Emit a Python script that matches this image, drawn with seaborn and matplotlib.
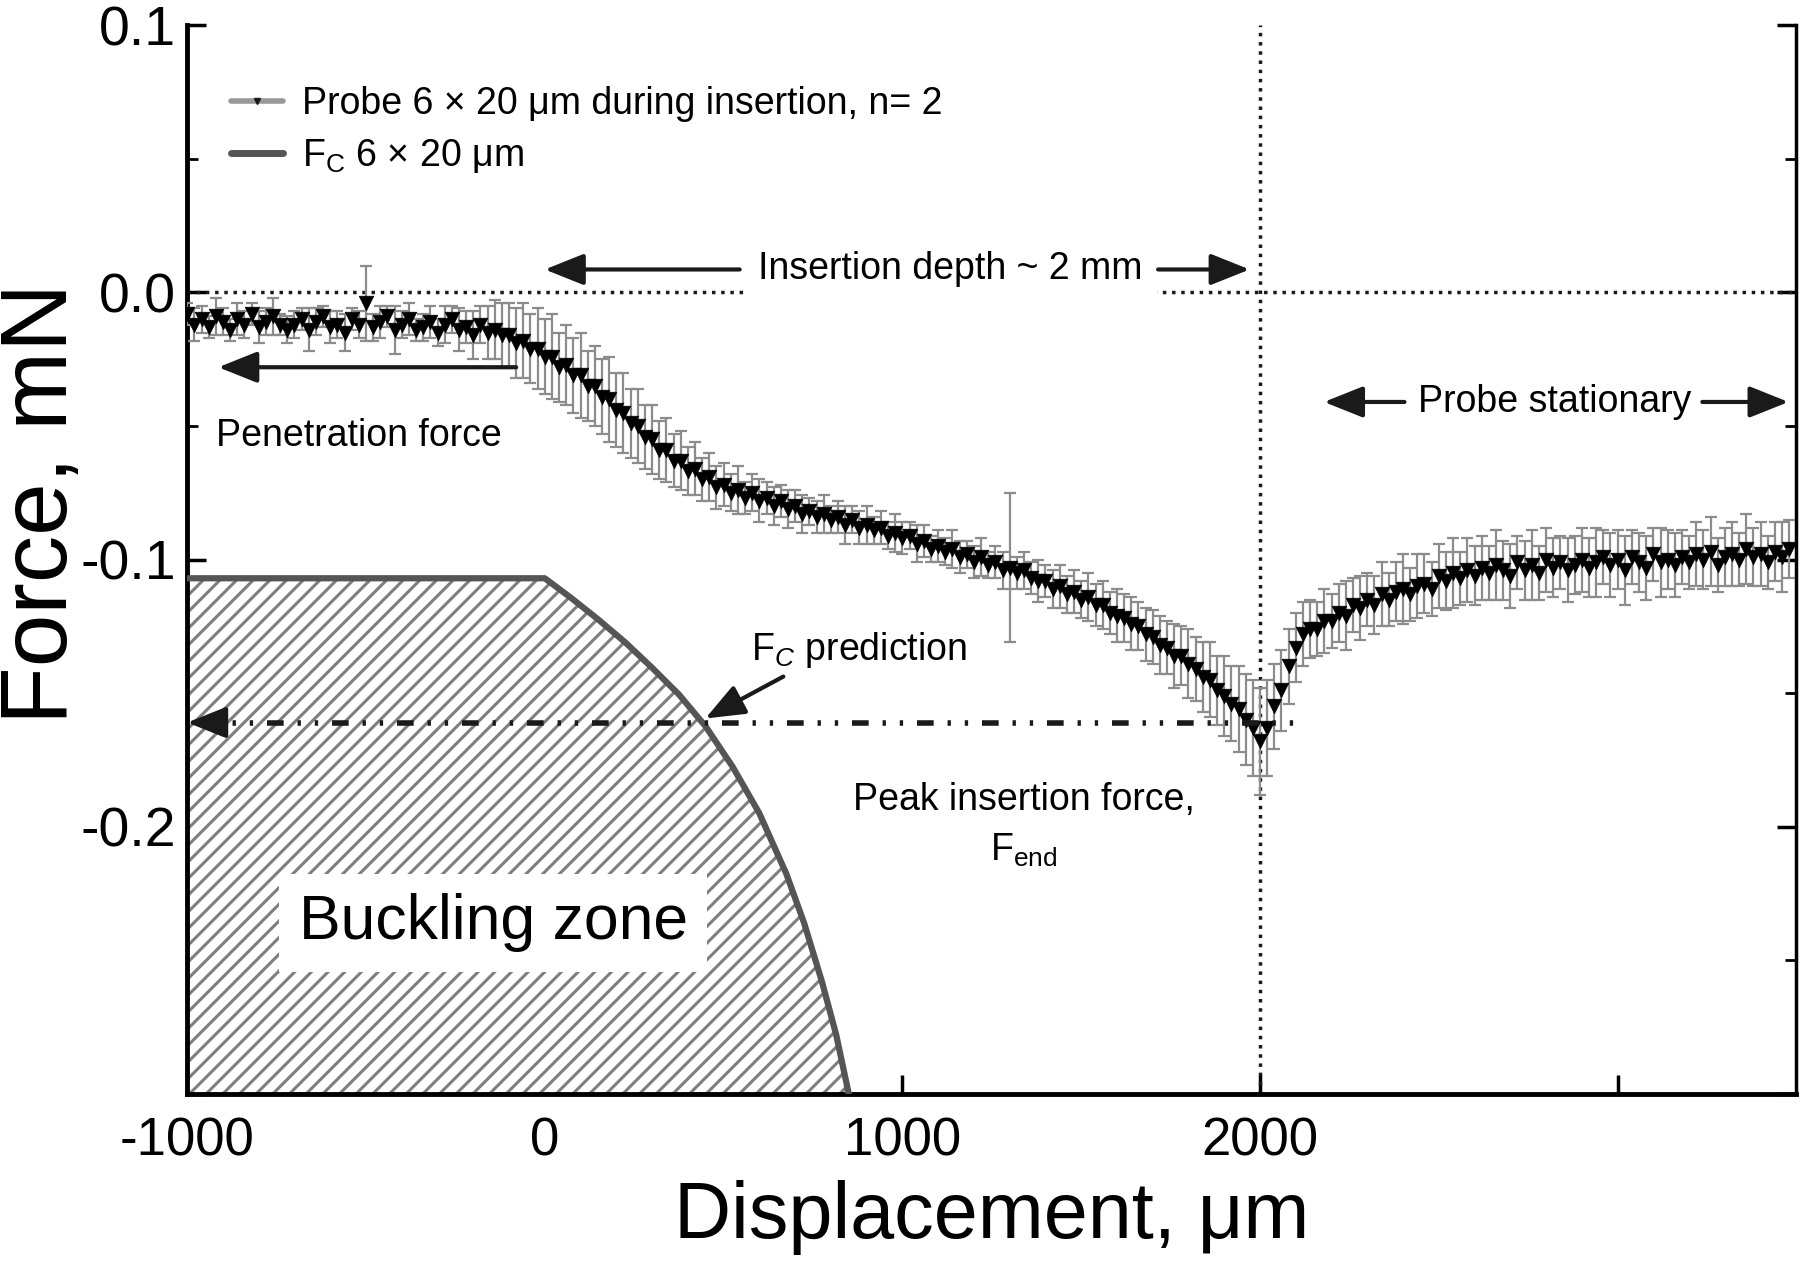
import numpy as np
import matplotlib
matplotlib.use('Agg')
import matplotlib.pyplot as plt
import seaborn as sns
from matplotlib.lines import Line2D

# displacement grid of the averaged probe recording (um)
disp = np.arange(-1000, 3500, 20)

# mean force, mN (n = 2 probes); one row = 300 um
force_mean = [
    -0.008, -0.012, -0.010, -0.013, -0.009, -0.011, -0.014, -0.010, -0.012, -0.008, -0.013, -0.011, -0.009, -0.012, -0.014,
    -0.012, -0.010, -0.014, -0.011, -0.009, -0.013, -0.012, -0.015, -0.010, -0.012, -0.004, -0.013, -0.011, -0.009, -0.014,
    -0.012, -0.010, -0.014, -0.013, -0.011, -0.015, -0.012, -0.010, -0.014, -0.013, -0.016, -0.012, -0.015, -0.014, -0.016,
    -0.016, -0.019, -0.018, -0.021, -0.021, -0.024, -0.024, -0.028, -0.027, -0.031, -0.031, -0.035, -0.035, -0.039, -0.040,
    -0.044, -0.045, -0.049, -0.050, -0.054, -0.055, -0.059, -0.059, -0.063, -0.063, -0.067, -0.066, -0.070, -0.069, -0.073,
    -0.072, -0.075, -0.074, -0.077, -0.075, -0.078, -0.077, -0.080, -0.078, -0.081, -0.080, -0.083, -0.082, -0.084, -0.083,
    -0.085, -0.084, -0.087, -0.085, -0.088, -0.087, -0.089, -0.088, -0.091, -0.090, -0.092, -0.091, -0.094, -0.093, -0.096,
    -0.095, -0.097, -0.096, -0.099, -0.098, -0.101, -0.099, -0.102, -0.101, -0.104, -0.103, -0.105, -0.104, -0.107, -0.108,
    -0.108, -0.111, -0.110, -0.113, -0.112, -0.115, -0.114, -0.117, -0.117, -0.120, -0.121, -0.122, -0.124, -0.125, -0.128,
    -0.129, -0.132, -0.133, -0.136, -0.136, -0.139, -0.141, -0.144, -0.145, -0.149, -0.151, -0.154, -0.156, -0.160, -0.163,
    -0.168, -0.163, -0.155, -0.149, -0.140, -0.133, -0.128, -0.126, -0.126, -0.123, -0.123, -0.120, -0.121, -0.117, -0.118,
    -0.115, -0.117, -0.113, -0.115, -0.112, -0.111, -0.113, -0.110, -0.109, -0.111, -0.106, -0.108, -0.105, -0.107, -0.104,
    -0.106, -0.103, -0.105, -0.102, -0.104, -0.106, -0.101, -0.104, -0.102, -0.105, -0.100, -0.103, -0.101, -0.104, -0.102,
    -0.100, -0.103, -0.101, -0.099, -0.102, -0.100, -0.104, -0.099, -0.101, -0.103, -0.098, -0.101, -0.100, -0.102, -0.099,
    -0.101, -0.098, -0.100, -0.097, -0.102, -0.099, -0.098, -0.100, -0.096, -0.099, -0.098, -0.101, -0.097, -0.099, -0.096,
]
force_sd = [
    0.004, 0.006, 0.005, 0.004, 0.007, 0.005, 0.004, 0.006, 0.005, 0.004, 0.006, 0.005, 0.007, 0.004, 0.005,
    0.005, 0.004, 0.008, 0.005, 0.004, 0.006, 0.005, 0.007, 0.004, 0.005, 0.014, 0.005, 0.006, 0.004, 0.009,
    0.005, 0.006, 0.004, 0.005, 0.006, 0.005, 0.007, 0.005, 0.008, 0.006, 0.009, 0.007, 0.010, 0.011, 0.012,
    0.012, 0.013, 0.014, 0.013, 0.015, 0.014, 0.016, 0.013, 0.015, 0.014, 0.016, 0.013, 0.015, 0.014, 0.016,
    0.014, 0.015, 0.013, 0.014, 0.012, 0.013, 0.011, 0.012, 0.010, 0.011, 0.009, 0.010, 0.008, 0.009, 0.008,
    0.008, 0.007, 0.009, 0.006, 0.007, 0.008, 0.006, 0.007, 0.006, 0.007, 0.006, 0.007, 0.005, 0.006, 0.007,
    0.005, 0.006, 0.007, 0.005, 0.006, 0.007, 0.005, 0.006, 0.005, 0.007, 0.006, 0.005, 0.007, 0.006, 0.005,
    0.006, 0.005, 0.007, 0.006, 0.005, 0.006, 0.007, 0.005, 0.006, 0.007, 0.028, 0.006, 0.007, 0.006, 0.008,
    0.006, 0.007, 0.008, 0.007, 0.008, 0.007, 0.009, 0.008, 0.009, 0.008, 0.010, 0.009, 0.010, 0.009, 0.010,
    0.010, 0.011, 0.010, 0.012, 0.011, 0.013, 0.012, 0.013, 0.014, 0.013, 0.015, 0.014, 0.016, 0.017, 0.018,
    0.020, 0.018, 0.016, 0.015, 0.014, 0.013, 0.012, 0.011, 0.010, 0.012, 0.010, 0.011, 0.013, 0.010, 0.012,
    0.010, 0.011, 0.012, 0.010, 0.011, 0.013, 0.010, 0.012, 0.011, 0.010, 0.012, 0.011, 0.013, 0.010, 0.012,
    0.011, 0.012, 0.010, 0.013, 0.011, 0.012, 0.010, 0.011, 0.013, 0.010, 0.012, 0.011, 0.010, 0.012, 0.011,
    0.012, 0.011, 0.013, 0.010, 0.012, 0.011, 0.013, 0.010, 0.011, 0.012, 0.010, 0.013, 0.011, 0.012, 0.010,
    0.010, 0.012, 0.011, 0.013, 0.010, 0.011, 0.012, 0.010, 0.013, 0.011, 0.012, 0.010, 0.011, 0.013, 0.011,
]

# critical buckling force F_C vs displacement
fc_x = [-1000, 0, 75, 150, 225, 300, 375, 450, 525, 600, 675, 725, 775, 815, 850]
fc_y = [-0.107, -0.107, -0.1145, -0.1225, -0.131, -0.1405, -0.1505, -0.1625,
        -0.1775, -0.195, -0.2175, -0.236, -0.258, -0.278, -0.300]

fc_pred = -0.161      # F_C at the end of insertion
insert_end = 2000     # insertion depth, um

x_ticks = [-1000, 0, 1000, 2000, 3000]
x_labels = ['-1000', '0', '1000', '2000', '']
y_ticks = [0.1, 0.0, -0.1, -0.2, -0.3]
y_labels = ['0.1', '0.0', '-0.1', '-0.2', '']

sns.set_theme(style='ticks')
plt.rcParams['font.family'] = ['Liberation Sans', 'DejaVu Sans']
plt.rcParams['mathtext.fontset'] = 'custom'
plt.rcParams['mathtext.rm'] = 'Liberation Sans'
plt.rcParams['mathtext.it'] = 'Liberation Sans:italic'
plt.rcParams['axes.unicode_minus'] = False
plt.rcParams['hatch.linewidth'] = 2.2
for k in ['text.color', 'axes.labelcolor', 'xtick.color', 'ytick.color', 'axes.edgecolor']:
    plt.rcParams[k] = 'black'

fig = plt.figure(figsize=(18, 12.66), dpi=100)
ax = fig.add_axes([0.104, 0.136, 0.894, 0.844])

# buckling zone
ax.fill_between(fc_x, fc_y, -0.3, facecolor='white', edgecolor='#7f7f7f',
                hatch='//', linewidth=0, zorder=1)
sns.lineplot(x=fc_x, y=fc_y, sort=False, color='#555555', lw=4.5, ax=ax, zorder=3)

# reference lines
ax.axvline(insert_end, color='k', ls=':', lw=2.5, zorder=2)
ax.axhline(0, color='k', ls=':', lw=2.5, zorder=2)
ax.plot([-960, 2100], [fc_pred, fc_pred], color='k', lw=4,
        ls=(0, (3, 2.5, 0.6, 2.5, 0.6, 2.5)), zorder=6)

# probe data
ax.errorbar(disp, force_mean, yerr=force_sd, fmt='none', ecolor='#8c8c8c',
            elinewidth=1.6, capsize=4, capthick=1.6, zorder=4)
sns.scatterplot(x=disp, y=force_mean, marker='v', s=110, color='black',
                edgecolor='black', linewidth=0.5, ax=ax, zorder=5, legend=False)

arrow = dict(arrowstyle='-|>,head_length=2.0,head_width=0.8', color='k', lw=3,
             shrinkA=0, shrinkB=0)


def arr(tip, tail):
    ax.annotate('', xy=tip, xytext=tail, arrowprops=arrow, zorder=7)


# insertion depth
ax.text(1135, 0.0086, 'Insertion depth ~ 2 mm', ha='center', va='center',
        fontsize=27, bbox=dict(facecolor='white', edgecolor='none', pad=10), zorder=6)
arr((0, 0.0086), (545, 0.0086))
arr((1971, 0.0086), (1715, 0.0086))

# penetration force
arr((-913, -0.028), (-80, -0.028))
ax.text(-920, -0.0536, 'Penetration force', ha='left', va='center', fontsize=27)

# probe stationary
ax.text(2825, -0.041, 'Probe stationary', ha='center', va='center', fontsize=27)
arr((2179, -0.041), (2404, -0.041))
arr((3478, -0.041), (3237, -0.041))

# F_C prediction
arr((-1000, fc_pred), (-900, fc_pred))
arr((449, -0.1595), (667, -0.1438))
ax.text(577, -0.134, r'F$_{C}$ prediction', ha='left', va='center', fontsize=27)

# peak force
ax.text(1340, -0.190, 'Peak insertion force,', ha='center', va='center', fontsize=27)
ax.text(1340, -0.209, r'F$_\mathrm{end}$', ha='center', va='center', fontsize=27)

ax.text(-144, -0.236, 'Buckling zone', ha='center', va='center', fontsize=45,
        bbox=dict(facecolor='white', edgecolor='none', pad=14), zorder=6)

# legend
h1 = Line2D([], [], color='#999999', lw=4, marker='v', ms=4, mfc='k', mec='k')
h2 = Line2D([], [], color='#555555', lw=5)
ax.legend([h1, h2], [r'Probe 6 × 20 μm during insertion, n= 2',
                     r'F$_\mathrm{C}$ 6 × 20 μm'],
          loc='upper left', bbox_to_anchor=(0.006, 0.975), frameon=False,
          fontsize=27, handlelength=1.4, handletextpad=0.5, labelspacing=0.4)

ax.set_xlim(-1000, 3500)
ax.set_ylim(-0.3, 0.1)
ax.set_xticks(x_ticks)
ax.set_xticklabels(x_labels)
ax.set_yticks(y_ticks)
ax.set_yticklabels(y_labels)
ax.set_yticks([0.05, -0.05, -0.15, -0.25], minor=True)
ax.tick_params(axis='x', labelsize=38, pad=16)
ax.tick_params(axis='y', labelsize=40, pad=8)
ax.tick_params(which='major', direction='in', length=14, width=2.5, right=True, top=False)
ax.tick_params(which='minor', direction='in', length=8, width=2, right=True, top=False)
for s in ['left', 'bottom']:
    ax.spines[s].set_linewidth(3.5)
ax.spines['right'].set_linewidth(2.5)
ax.spines['top'].set_visible(False)

ax.set_xlabel('Displacement, μm', fontsize=57, labelpad=10)
ax.set_ylabel('Force, mN', fontsize=68)
ax.yaxis.set_label_coords(-0.062, 0.553)

fig.savefig('out.png', dpi=100)
